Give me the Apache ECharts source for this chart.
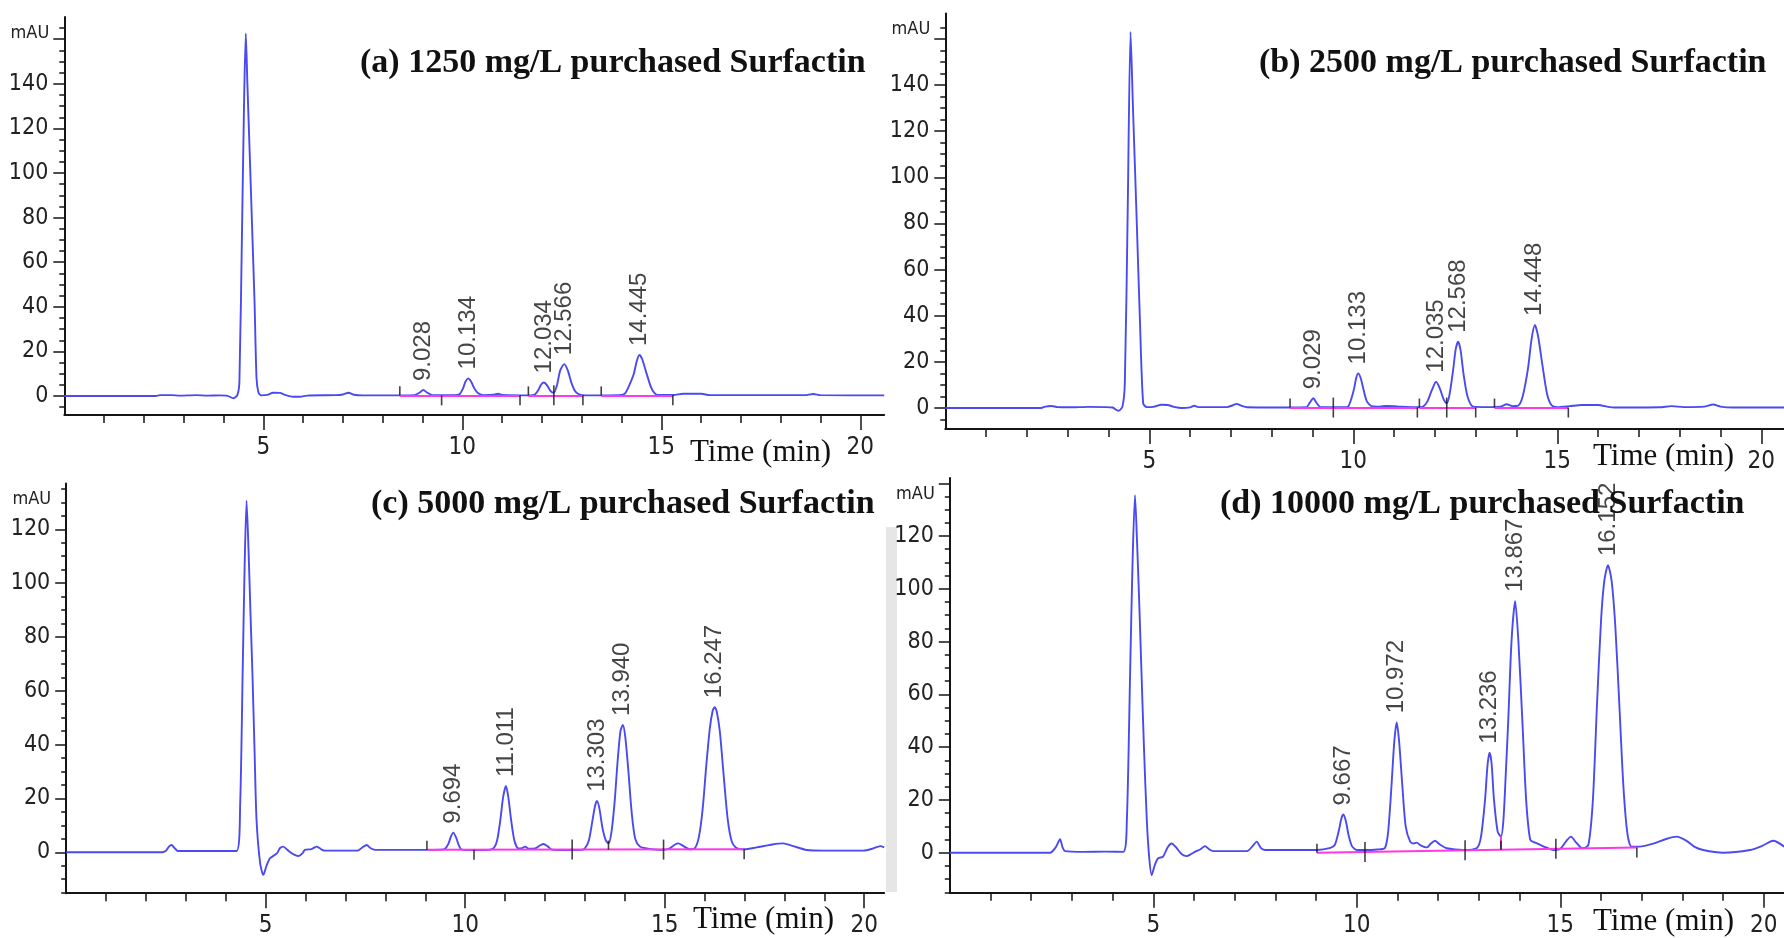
<!DOCTYPE html>
<html>
<head>
<meta charset="utf-8">
<script src="https://cdn.jsdelivr.net/npm/echarts@6/dist/echarts.min.js"></script>
<style>
html,body{margin:0;padding:0;background:#fff;}
#chart{width:1784px;height:938px;}
</style>
</head>
<body>
<div id="chart"></div>
<script>
// ---------------- DATA ----------------
const TITLES = ['(a) 1250 mg/L purchased Surfactin', '(b) 2500 mg/L purchased Surfactin',
                '(c) 5000 mg/L purchased Surfactin', '(d) 10000 mg/L purchased Surfactin'];
const X_LABELS = [5, 10, 15, 20];
const X_MINOR = [1,2,3,4,5,6,7,8,9,10,11,12,13,14,15,16,17,18,19,20];
const Y_LABELS_AB = [0, 20, 40, 60, 80, 100, 120, 140];
const Y_MAJOR_AB = [0, 20, 40, 60, 80, 100, 120, 140, 160];
const Y_MINOR_AB = [-5,0,5,10,15,20,25,30,35,40,45,50,55,60,65,70,75,80,85,90,95,100,105,110,115,120,125,130,135,140,145,150,155,160,165];
const Y_LABELS_CD = [0, 20, 40, 60, 80, 100, 120];
const Y_MAJOR_C = [0, 20, 40, 60, 80, 100, 120];
const Y_MAJOR_D = [0, 20, 40, 60, 80, 100, 120, 140];
const Y_MINOR_CD = [-15,-10,-5,0,5,10,15,20,25,30,35,40,45,50,55,60,65,70,75,80,85,90,95,100,105,110,115,120,125,130,135,140];

// chromatogram traces [time (min), signal (mAU)]
const TRACE_A = [[0,0],[2.3,0],[2.4,0.4],[2.7,0.4],[2.9,0.2],[3.3,0.4],[3.6,0.2],[3.9,0.3],[4.1,0.1],[4.25,-1.0],[4.35,0.5],
 [4.40,6.6],[4.47,80],[4.52,135],[4.56,162.6],[4.60,140],[4.66,108],[4.72,75],[4.78,42],[4.83,8],[4.88,1.5],[4.95,0.3],
 [5.1,0.5],[5.25,1.5],[5.42,1.4],[5.55,0.5],[5.75,-0.3],[5.92,-0.3],[6.1,0.2],[6.8,0.4],[7.0,0.7],[7.14,1.5],[7.28,0.6],[7.5,0.3],
 [8.4,0.3],[8.8,0.4],[8.92,1.5],[9.02,2.7],[9.12,1.5],[9.25,0.4],[9.8,0.4],[9.93,0.8],[10.02,3.5],[10.08,6.5],[10.15,7.9],
 [10.22,6.5],[10.3,3.5],[10.4,1.2],[10.53,0.4],[10.8,0.6],[10.9,1.0],[11.0,0.5],[11.7,0.3],[11.83,0.8],[11.92,3.0],[11.98,5.2],
 [12.05,6.1],[12.13,4.8],[12.22,2.2],[12.30,1.5],[12.38,5],[12.46,11.5],[12.56,14.3],[12.65,11.5],[12.74,6],[12.84,2],[12.95,0.6],
 [13.1,0.3],[13.5,0.3],[14.0,0.5],[14.09,1.2],[14.2,5],[14.31,10],[14.38,15.5],[14.45,18.4],[14.52,16.5],[14.64,9.5],[14.74,4],
 [14.82,1.5],[14.9,0.5],[15.3,0.5],[15.55,1.0],[16.0,1.0],[16.22,0.4],[18.6,0.4],[18.82,0.9],[19.0,0.4],[20.6,0.3]];
const TRACE_B = [[0,0],[2.35,0],[2.45,0.6],[2.6,0.9],[2.75,0.4],[3.1,0.3],[3.5,0.5],[3.9,0.4],[4.1,0.2],[4.24,-1.2],[4.34,0.5],
 [4.40,10.7],[4.47,85],[4.54,163],[4.60,130],[4.69,82],[4.77,38],[4.85,2],[4.94,0.4],[5.1,0.5],[5.3,1.4],[5.45,1.3],[5.6,0.5],
 [5.8,0],[6.0,0.3],[6.1,1.0],[6.2,0.4],[6.9,0.4],[7.05,1.2],[7.14,1.8],[7.25,1.0],[7.4,0.3],[8.45,0.2],[8.85,0.3],[8.93,2.2],
 [9.02,4.2],[9.1,2.2],[9.2,0.4],[9.8,0.3],[9.88,0.8],[9.96,4.5],[10.02,8.5],[10.07,13],[10.12,15],[10.18,13],[10.25,8],[10.33,3],
 [10.45,0.8],[10.65,0.6],[10.8,0.9],[11.0,0.8],[11.14,0.6],[11.6,0.3],[11.72,0.8],[11.82,3],[11.92,7.5],[12.03,11.4],[12.12,8.5],
 [12.22,3.5],[12.29,2.0],[12.36,6],[12.45,17],[12.51,25.5],[12.57,28.7],[12.63,25],[12.70,15],[12.8,5],[12.94,0.6],[13.3,0.4],
 [13.6,0.6],[13.76,1.6],[13.9,0.8],[14.04,1.0],[14.15,5],[14.28,17],[14.37,30],[14.45,36],[14.53,31],[14.64,18],[14.75,6],
 [14.86,1.2],[15.0,0.4],[15.3,0.8],[15.6,1.3],[16.0,1.3],[16.25,0.5],[16.4,0.2],[17.5,0.3],[17.8,0.8],[18.1,0.4],[18.6,0.6],
 [18.82,1.5],[19.0,0.6],[19.3,0.2],[20.56,0.2]];
const TRACE_C = [[0,0],[2.4,0],[2.5,0.6],[2.58,2.2],[2.64,2.7],[2.72,1.5],[2.8,0.5],[3.2,0.5],[3.8,0.5],[4.27,0.5],[4.36,18],
 [4.42,65],[4.47,105],[4.52,130.6],[4.57,112],[4.62,88],[4.67,65],[4.72,38],[4.77,12],[4.86,-4],[4.94,-8.4],[5.02,-5],[5.11,-2.2],
 [5.28,-0.4],[5.36,1.6],[5.44,2.1],[5.55,0.8],[5.7,-0.8],[5.82,-1.4],[5.93,-0.2],[5.98,0.9],[6.15,1.2],[6.28,2.1],[6.4,1.0],
 [6.49,0.6],[7.3,0.6],[7.42,1.8],[7.53,2.7],[7.63,1.5],[7.74,0.9],[9.0,0.9],[9.4,1.0],[9.49,1.2],[9.58,3.2],[9.64,5.8],[9.70,7.3],
 [9.77,5.5],[9.84,2.6],[9.91,1.0],[10.3,0.8],[10.6,0.9],[10.72,1.6],[10.8,4.5],[10.88,12],[10.95,20.5],[11.02,24.6],[11.08,20.5],
 [11.15,12],[11.23,4.5],[11.33,1.4],[11.42,1.5],[11.5,2.1],[11.6,1.3],[11.75,1.4],[11.88,2.6],[11.96,3.1],[12.06,2.3],[12.17,1.0],
 [12.6,0.8],[12.92,0.9],[13.0,1.5],[13.1,4.5],[13.18,11],[13.25,17],[13.30,19.1],[13.36,16.5],[13.44,9],[13.52,4.5],[13.59,3.3],
 [13.66,7],[13.74,18],[13.82,34],[13.89,45],[13.95,47.3],[14.01,43],[14.09,30],[14.17,15],[14.26,5],[14.38,2.1],[14.55,1.4],
 [14.71,1.1],[14.9,0.9],[15.1,1.3],[15.25,2.8],[15.34,3.3],[15.45,2.5],[15.63,1.1],[15.76,1.6],[15.86,6],[15.95,16],[16.04,32],
 [16.13,46],[16.20,52.5],[16.25,53.9],[16.30,52.5],[16.38,45],[16.48,28],[16.58,12],[16.68,4],[16.8,1.6],[17.0,1.1],[17.3,1.8],
 [17.7,2.9],[17.97,3.3],[18.2,2.4],[18.56,0.85],[19.0,0.6],[19.98,0.6],[20.2,1.3],[20.4,2.3],[20.5,1.8]];
const TRACE_D = [[0,0],[2.46,0],[2.6,2],[2.71,5.1],[2.77,2],[2.83,0.6],[3.3,0.3],[3.8,0.4],[4.26,0.3],[4.35,12.4],[4.43,68],
 [4.49,110],[4.55,135.5],[4.6,118],[4.66,92],[4.71,68],[4.77,40],[4.84,12.4],[4.9,-2],[4.96,-8.5],[5.04,-4.5],[5.12,-2.1],
 [5.24,-1.5],[5.35,2.0],[5.45,3.5],[5.57,1.8],[5.7,-0.6],[5.82,-1.3],[5.93,-0.5],[6.02,0.3],[6.15,1.2],[6.27,2.5],[6.38,1.2],
 [6.47,0.6],[7.3,0.6],[7.44,2.5],[7.54,4.2],[7.64,1.8],[7.74,1.0],[8.5,1.0],[9.02,1.0],[9.35,1.8],[9.46,3.0],[9.56,8.5],[9.62,13],
 [9.67,14.5],[9.73,12],[9.8,6.5],[9.88,2.5],[10.0,1.0],[10.2,1.0],[10.5,1.2],[10.69,1.8],[10.77,8],[10.85,25],[10.92,42],
 [10.98,49.4],[11.04,42],[11.12,25],[11.2,10],[11.31,4.2],[11.39,3.5],[11.47,3.8],[11.57,2.8],[11.72,2.0],[11.82,3.5],[11.92,4.5],
 [12.05,3.0],[12.21,1.7],[12.62,1.0],[12.95,1.8],[13.05,6],[13.15,20],[13.21,33],[13.26,37.9],[13.31,34],[13.37,20],[13.46,8],
 [13.54,6.1],[13.6,12],[13.66,30],[13.72,50],[13.8,80],[13.89,95.4],[13.97,80],[14.07,49],[14.16,20],[14.26,4.9],[14.38,3.8],
 [14.5,3.0],[14.65,2.0],[14.83,1.0],[15.0,1.5],[15.15,4.5],[15.26,6.1],[15.38,4],[15.5,2],[15.57,1.7],[15.69,3],[15.8,20],
 [15.9,56],[16.0,88],[16.08,103],[16.17,109],[16.26,103],[16.35,86],[16.45,56],[16.55,25],[16.65,7],[16.75,2.3],[16.95,2.3],
 [17.3,3.5],[17.6,5.2],[17.86,6.1],[18.1,4.5],[18.3,2.2],[18.51,1.0],[19.0,0],[19.66,1.0],[19.95,2.5],[20.23,4.5],[20.5,2.3]];

// labelled peaks [time, apex, label]
const PEAKS_A = [[9.02,2.7,'9.028'],[10.15,7.9,'10.134'],[12.05,6.1,'12.034'],[12.56,14.3,'12.566'],[14.45,18.4,'14.445']];
const PEAKS_B = [[9.02,4.2,'9.029'],[10.12,15,'10.133'],[12.03,11.4,'12.035'],[12.57,28.7,'12.568'],[14.45,36,'14.448']];
const PEAKS_C = [[9.70,7.3,'9.694'],[11.02,24.6,'11.011'],[13.30,19.1,'13.303'],[13.95,47.3,'13.940'],[16.25,53.9,'16.247']];
const PEAKS_D = [[9.67,14.5,'9.667'],[10.98,49.4,'10.972'],[13.26,37.9,'13.236'],[13.89,95.4,'13.867'],[16.17,109,'16.152']];

// integration baselines [t0, v0, t1, v1]
const BASE_A = [[8.43,0.3,11.45,0.3],[11.66,0.3,13.03,0.3],[13.49,0.3,15.29,0.3]];
const BASE_B = [[8.45,0.2,11.57,0.2],[11.62,0.2,13.0,0.2],[13.46,0.2,15.27,0.2]];
const BASE_C = [[9.04,0.9,16.99,1.1]];
const BASE_D = [[9.02,0.0,16.88,2.0],[13.54,1.1,13.54,6.1]];

// integration event marks [time, baseline value, kind]
const EVENTS_A = [[8.43,0.3,'up'],[9.48,0.3,'down'],[11.45,0.3,'down'],[11.66,0.3,'up'],[12.30,0.3,'both'],[13.03,0.3,'down'],[13.49,0.3,'up'],[15.29,0.3,'down']];
const EVENTS_B = [[8.45,0.2,'up'],[9.51,0.2,'both'],[11.57,0.2,'down'],[11.62,0.2,'up'],[12.29,0.2,'both'],[13.0,0.2,'down'],[13.46,0.2,'up'],[15.27,0.2,'down']];
const EVENTS_C = [[9.04,0.9,'up'],[10.22,0.9,'down'],[12.68,1.0,'both'],[13.59,1.0,'up'],[14.97,1.0,'both'],[16.99,1.1,'down']];
const EVENTS_D = [[9.02,0.0,'up'],[10.2,0.3,'both'],[12.66,0.9,'both'],[13.54,1.1,'up'],[14.89,1.5,'both'],[16.88,2.0,'down']];

// ---------------- LAYOUT ----------------
const LAYOUT = [
  {left:64.3, top:16.9, width:819.9, height:398.1, xmax:20.6,   ymin:-8.5,  ymax:170, yLab:Y_LABELS_AB, yMaj:Y_MAJOR_AB, yMin:Y_MINOR_AB, tx:360,  ty:63.5,  timeX:690,  timeY:453},
  {left:945.3,top:13.5, width:838.7, height:415.5, xmax:20.556, ymin:-9.1,  ymax:171, yLab:Y_LABELS_AB, yMaj:Y_MAJOR_AB, yMin:Y_MINOR_AB, tx:1259, ty:63.5,  timeX:1593, timeY:457},
  {left:66.2, top:483.5,width:818,   height:409.7, xmax:20.5,   ymin:-15.2, ymax:137, yLab:Y_LABELS_CD, yMaj:Y_MAJOR_C,  yMin:Y_MINOR_CD, tx:371,  ty:504,   timeX:693,  timeY:920},
  {left:949.8,top:478,  width:834.4, height:414.8, xmax:20.5,   ymin:-15.2, ymax:142, yLab:Y_LABELS_CD, yMaj:Y_MAJOR_D,  yMin:Y_MINOR_CD, tx:1220, ty:504,   timeX:1593, timeY:921.7}
];
const TRACES = [TRACE_A, TRACE_B, TRACE_C, TRACE_D];
const PEAKS = [PEAKS_A, PEAKS_B, PEAKS_C, PEAKS_D];
const BASES = [BASE_A, BASE_B, BASE_C, BASE_D];
const EVENTS = [EVENTS_A, EVENTS_B, EVENTS_C, EVENTS_D];

const NARROW = "'Liberation Sans Narrow','DejaVu Sans Condensed','Liberation Sans',sans-serif";
const SANS = "'Liberation Sans', Arial, sans-serif";
const SERIF = "'Liberation Serif','Times New Roman',serif";
const AX = '#151515';

const grids = [], xAxes = [], yAxes = [], series = [], graphics = [];

LAYOUT.forEach((L, i) => {
  grids.push({left:L.left, top:L.top, width:L.width, height:L.height, containLabel:false, outerBoundsMode:'none'});
  xAxes.push({gridIndex:i, type:'value', min:0, max:L.xmax, position:'bottom',
    axisLine:{show:true, onZero:false, lineStyle:{color:AX, width:2}},
    axisTick:{show:true, customValues:X_LABELS, length:15, lineStyle:{color:AX, width:1.5}},
    axisLabel:{show:true, customValues:X_LABELS, margin:21, fontSize:24, fontFamily:NARROW, color:'#222'},
    splitLine:{show:false}});
  xAxes.push({gridIndex:i, type:'value', min:0, max:L.xmax, position:'bottom',
    axisLine:{show:false, onZero:false},
    axisTick:{show:true, customValues:X_MINOR, length:8, lineStyle:{color:AX, width:1.5}},
    axisLabel:{show:false}, splitLine:{show:false}});
  yAxes.push({gridIndex:i, type:'value', min:L.ymin, max:L.ymax, position:'left',
    axisLine:{show:true, onZero:false, lineStyle:{color:AX, width:2}},
    axisTick:{show:true, customValues:L.yMaj, length:11, lineStyle:{color:AX, width:1.5}},
    axisLabel:{show:true, customValues:L.yLab, margin:16, fontSize:23, fontFamily:NARROW, color:'#222'},
    splitLine:{show:false}});
  yAxes.push({gridIndex:i, type:'value', min:L.ymin, max:L.ymax, position:'left',
    axisLine:{show:false, onZero:false},
    axisTick:{show:true, customValues:L.yMin, length:5, lineStyle:{color:AX, width:1.5}},
    axisLabel:{show:false}, splitLine:{show:false}});

  const xi = i * 2, yi = i * 2;
  series.push({type:'line', xAxisIndex:xi, yAxisIndex:yi, data:TRACES[i], showSymbol:false, smooth:0.25,
    lineStyle:{color:'#4a4af0', width:1.9}, z:2, silent:true, animation:false});
  series.push({type:'lines', coordinateSystem:'cartesian2d', xAxisIndex:xi, yAxisIndex:yi,
    data:BASES[i].map(s => ({coords:[[s[0], s[1]], [s[2], s[3]]]})),
    lineStyle:{color:'#ff38e6', width:2, opacity:1}, z:3, silent:true, animation:false});
  series.push({type:'scatter', xAxisIndex:xi, yAxisIndex:yi, z:4, silent:true, animation:false,
    data:EVENTS[i].map(e => {
      const k = e[2];
      const size = k === 'both' ? [1.6, 20] : (k === 'up' ? [1.6, 9] : [1.6, 10]);
      const off = k === 'both' ? [0, 0] : (k === 'up' ? [0, -4.5] : [0, 5]);
      return {value:[e[0], e[1]], symbol:'rect', symbolSize:size, symbolOffset:off};
    }),
    itemStyle:{color:'#111'}});
  series.push({type:'scatter', xAxisIndex:xi, yAxisIndex:yi, z:5, silent:true, animation:false, symbolSize:0,
    data:PEAKS[i].map(p => ({value:[p[0], p[1]], name:p[2]})),
    label:{show:true, position:'top', distance:9, rotate:90, align:'left', verticalAlign:'middle',
      formatter:'{b}', fontSize:24, fontFamily:SANS, color:'#151515'}});

  graphics.push({type:'text', x:L.tx, y:L.ty, z:10, style:{text:TITLES[i], fontSize:34, fontWeight:'bold', fontFamily:SERIF,
    fill:'#111', align:'left', verticalAlign:'middle', textAlign:'left', textVerticalAlign:'middle'}});
  graphics.push({type:'text', x:L.timeX, y:L.timeY, z:10, style:{text:'Time (min)', fontSize:31, fontFamily:SERIF,
    fill:'#111', align:'left', verticalAlign:'middle', textAlign:'left', textVerticalAlign:'middle'}});
  graphics.push({type:'text', x:L.left - 15, y:L.top + 16, z:10, style:{text:'mAU', fontSize:18, fontFamily:NARROW,
    fill:'#222', align:'right', verticalAlign:'middle', textAlign:'right', textVerticalAlign:'middle'}});
});

// faint grey scanning strip between lower panels
graphics.push({type:'rect', shape:{x:886, y:527, width:11, height:365}, style:{fill:'#e6e6e6'}, z:0});

const chart = echarts.init(document.getElementById('chart'), null, {renderer:'canvas'});
chart.setOption({
  animation:false,
  backgroundColor:'#ffffff',
  grid:grids, xAxis:xAxes, yAxis:yAxes, series:series, graphic:graphics
});
</script>
</body>
</html>
